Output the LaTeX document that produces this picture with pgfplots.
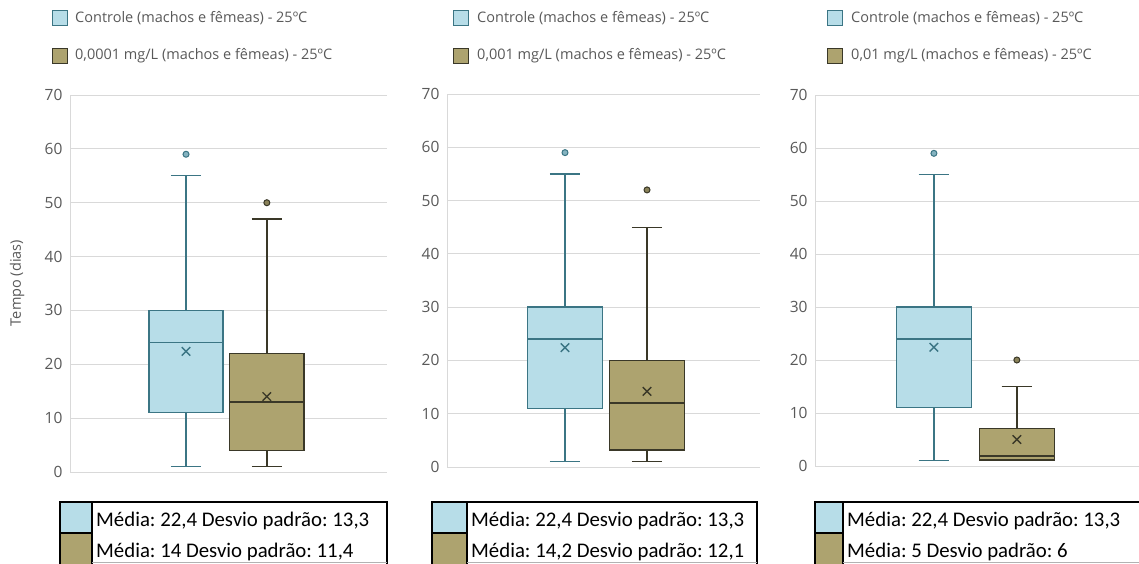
\documentclass[border=0pt]{standalone}
\usepackage{fontspec}
\setmainfont{Open Sans}
\newfontfamily\calibri{Carlito}
\usepackage{pgfplots}
\pgfplotsset{compat=1.18}
\usepgfplotslibrary{statistics}
\definecolor{cfill}{HTML}{B7DDE8}
\definecolor{cedge}{HTML}{3B7584}
\definecolor{tfill}{HTML}{ADA36F}
\definecolor{tedge}{HTML}{3A3828}
\definecolor{tickc}{HTML}{595959}
\definecolor{gridc}{HTML}{D9D9D9}

\pgfplotsset{
 panel/.style={scale only axis, anchor=south west, ymin=0, ymax=70, ytick={0,10,...,70},
   xmin=0, xmax=100, xtick=\empty, ymajorgrids, grid style={gridc, line width=1pt},
   axis lines*=left, axis line style={gridc, line width=1pt}, major tick length=0pt,
   /pgf/number format/assume math mode=true,
   yticklabel style={font=\fontsize{15.5}{18}\selectfont, text=tickc, xshift=-4pt},
   clip=false, boxplot/draw direction=y},
 ctrl/.style={draw=cedge, fill=cfill, line width=1.4pt, mark=*, mark size=3pt,
   mark options={fill=cfill!60!cedge, draw=cedge, line width=1pt}},
 trt/.style={draw=tedge, fill=tfill, line width=1.4pt, mark=*, mark size=3pt,
   mark options={fill=tfill!80!black, draw=tedge, line width=1pt}},
 boxplot/every average/.style={/tikz/mark=x, /tikz/mark size=6pt, /tikz/line width=1.5pt,
   /tikz/mark options={line width=1.5pt}},
}

\newcommand{\legtop}[3]{% x of square, x of text, label
  \draw[cedge, fill=cfill, line width=1pt] (#1pt,-10pt) rectangle ++(15pt,-15pt);
  \node[anchor=west, inner sep=0pt, text=tickc, font=\fontsize{14.5}{17}\selectfont] at (#2pt,-18pt) {Controle (machos e fêmeas) - 25ºC};
  \draw[tedge, fill=tfill, line width=1pt] (#1pt,-48pt) rectangle ++(15pt,-15pt);
  \node[anchor=west, inner sep=0pt, text=tickc, font=\fontsize{14.5}{17}\selectfont] at (#2pt,-56pt) {#3};
}
\newcommand{\stattable}[5]{% left, swatch right, right, text1, text2
  \fill[white] (#1pt,-502pt) rectangle (#3pt,-564pt);
  \fill[cfill] (#1pt,-502pt) rectangle (#2pt,-533pt);
  \fill[tfill] (#1pt,-533pt) rectangle (#2pt,-564pt);
  \draw[black, line width=2.5pt] (#1pt,-533pt) -- (#2pt,-533pt);
  \draw[black, line width=2.5pt] (#2pt,-502pt) -- (#2pt,-564pt);
  \draw[black, line width=2.5pt] (#1pt,-564pt) -- (#1pt,-502pt) -- (#3pt,-502pt) -- (#3pt,-564pt);
  \draw[gray!60, line width=1pt] (#2pt,-562pt) -- (#3pt,-562pt);
  \node[anchor=base west, inner sep=0pt, font=\calibri\fontsize{20.8}{25}\selectfont] at (#2pt+4pt,-526pt) {#4};
  \node[anchor=base west, inner sep=0pt, font=\calibri\fontsize{20.8}{25}\selectfont] at (#2pt+4pt,-557pt) {#5};
}

\begin{document}
\frenchspacing
\begin{tikzpicture}
\path[use as bounding box] (0pt,0pt) rectangle (1139pt,-563pt);

% ---------- Panel 1 ----------
\begin{axis}[panel, at={(70pt,-472pt)}, width=317pt, height=377pt]
\addplot[ctrl, boxplot prepared={draw position=36.6, lower whisker=1, lower quartile=11,
  median=24, upper quartile=30, upper whisker=55, average=22.4,
  box extend=23.4, whisker extend=9.5}]
  table[row sep=\\, y index=0] {data\\ 59\\};
\addplot[trt, boxplot prepared={draw position=62.1, lower whisker=1, lower quartile=4,
  median=13, upper quartile=22, upper whisker=47, average=14,
  box extend=23.4, whisker extend=9.5}]
  table[row sep=\\, y index=0] {data\\ 50\\};
\end{axis}
\node[rotate=90, text=tickc, font=\fontsize{14.5}{17}\selectfont, inner sep=0pt] at (17pt,-283pt) {Tempo (dias)};

% ---------- Panel 2 ----------
\begin{axis}[panel, at={(447pt,-467pt)}, width=313pt, height=373pt]
\addplot[ctrl, boxplot prepared={draw position=37.7, lower whisker=1, lower quartile=11,
  median=24, upper quartile=30, upper whisker=55, average=22.4,
  box extend=24, whisker extend=9.7}]
  table[row sep=\\, y index=0] {data\\ 59\\};
\addplot[trt, boxplot prepared={draw position=63.9, lower whisker=1, lower quartile=3.2,
  median=12, upper quartile=20, upper whisker=45, average=14.2,
  box extend=24, whisker extend=9.7}]
  table[row sep=\\, y index=0] {data\\ 52\\};
\end{axis}

% ---------- Panel 3 ----------
\begin{axis}[panel, at={(815pt,-466pt)}, width=324pt, height=371pt]
\addplot[ctrl, boxplot prepared={draw position=36.7, lower whisker=1, lower quartile=11,
  median=24, upper quartile=30, upper whisker=55, average=22.4,
  box extend=23.2, whisker extend=9.4}]
  table[row sep=\\, y index=0] {data\\ 59\\};
\addplot[trt, boxplot prepared={draw position=62.3, lower whisker=1, lower quartile=1.1,
  median=1.9, upper quartile=7.1, upper whisker=15, average=5,
  box extend=23.2, whisker extend=9.4}]
  table[row sep=\\, y index=0] {data\\ 20\\};
\end{axis}

% ---------- Top legends ----------
\legtop{52}{75}{0,0001 mg/L (machos e fêmeas) - 25ºC}
\legtop{453}{477}{0,001 mg/L (machos e fêmeas) - 25ºC}
\legtop{827}{851}{0,01 mg/L (machos e fêmeas) - 25ºC}

% ---------- Bottom tables ----------
\stattable{60}{92}{387}{Média: 22,4 Desvio padrão: 13,3}{Média: 14 Desvio padrão: 11,4}
\stattable{432}{467}{757}{Média: 22,4 Desvio padrão: 13,3}{Média: 14,2 Desvio padrão: 12,1}
\stattable{815}{843}{1150}{Média: 22,4 Desvio padrão: 13,3}{Média: 5 Desvio padrão: 6}
\end{tikzpicture}
\end{document}
